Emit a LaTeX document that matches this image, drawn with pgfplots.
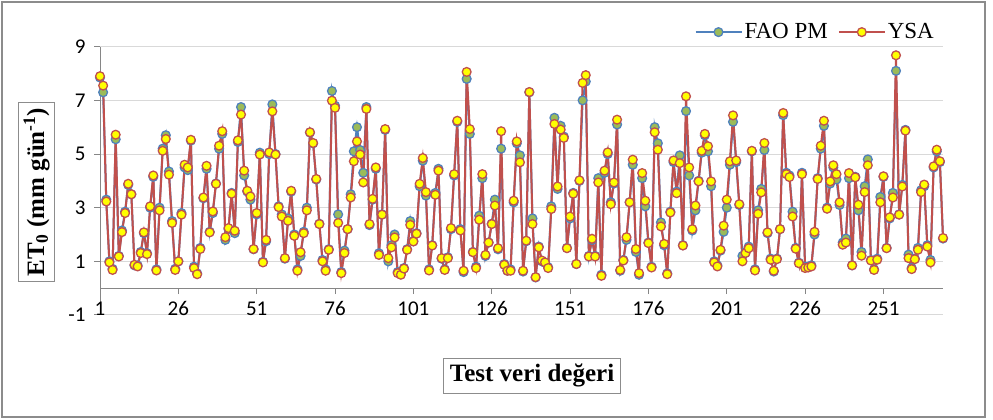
\documentclass[border=0pt]{standalone}
\usepackage{fontspec}
\setmainfont{Liberation Serif}
\newfontfamily\carlito{Carlito}
\usepackage{pgfplots}
\usepackage{pgfplotstable}
\pgfplotsset{compat=1.18}
\definecolor{faoline}{HTML}{4F81BD}
\definecolor{faomark}{HTML}{9BBB59}
\definecolor{ysaline}{HTML}{C0504D}
\definecolor{ysamark}{HTML}{FFFF00}
\definecolor{gridc}{HTML}{D9D9D9}
\definecolor{axisc}{HTML}{868686}
\definecolor{framec}{HTML}{8C8C8C}

\pgfplotstableread[row sep=\\]{
i f y\\
1 7.85 7.9\\ 2 7.3 7.55\\ 3 3.3 3.23\\ 4 1.0 0.96\\ 5 0.72 0.68\\ 6 5.55 5.72\\ 7 1.2 1.18\\ 8 2.15 2.09\\ 9 2.85 2.8\\ 10 3.85 3.89\\
11 3.5 3.5\\ 12 0.85 0.87\\ 13 0.85 0.81\\ 14 1.35 1.31\\ 15 2.05 2.08\\ 16 1.3 1.27\\ 17 3.0 3.05\\ 18 4.15 4.2\\ 19 0.7 0.66\\ 20 3.0 2.9\\
21 5.2 5.12\\ 22 5.7 5.56\\ 23 4.35 4.23\\ 24 2.5 2.43\\ 25 0.72 0.68\\ 26 1.0 1.0\\ 27 2.8 2.74\\ 28 4.5 4.6\\ 29 4.4 4.5\\ 30 5.5 5.53\\
31 0.8 0.75\\ 32 0.55 0.52\\ 33 1.5 1.46\\ 34 3.35 3.38\\ 35 4.45 4.56\\ 36 2.1 2.08\\ 37 2.8 2.86\\ 38 3.9 3.89\\ 39 5.2 5.31\\ 40 5.75 5.85\\
41 1.8 1.9\\ 42 2.2 2.24\\ 43 3.55 3.52\\ 44 2.05 2.14\\ 45 5.45 5.51\\ 46 6.75 6.47\\ 47 4.2 4.38\\ 48 3.6 3.63\\ 49 3.3 3.42\\ 50 1.45 1.46\\
51 2.75 2.8\\ 52 5.05 4.98\\ 53 0.98 0.96\\ 54 1.75 1.8\\ 55 5.0 5.06\\ 56 6.85 6.59\\ 57 5.0 4.98\\ 58 3.05 3.02\\ 59 2.75 2.67\\ 60 1.1 1.12\\
61 2.6 2.51\\ 62 3.6 3.63\\ 63 2.0 1.95\\ 64 0.7 0.65\\ 65 1.2 1.34\\ 66 2.1 2.05\\ 67 3.0 2.9\\ 68 5.8 5.81\\ 69 5.4 5.41\\ 70 4.05 4.07\\
71 2.4 2.39\\ 72 1.05 1.0\\ 73 0.7 0.65\\ 74 1.45 1.43\\ 75 7.35 6.99\\ 76 6.8 6.72\\ 77 2.75 2.43\\ 78 0.6 0.56\\ 79 1.4 1.31\\ 80 2.2 2.2\\
81 3.5 3.38\\ 82 5.1 4.73\\ 83 6.0 5.47\\ 84 5.15 4.98\\ 85 4.3 3.94\\ 86 6.75 6.68\\ 87 2.35 2.39\\ 88 3.3 3.33\\ 89 4.45 4.5\\ 90 1.3 1.24\\
91 2.75 2.74\\ 92 5.9 5.93\\ 93 1.0 1.12\\ 94 1.6 1.52\\ 95 2.0 1.89\\ 96 0.6 0.56\\ 97 0.55 0.5\\ 98 0.75 0.73\\ 99 1.45 1.43\\ 100 2.5 2.36\\
101 1.75 1.74\\ 102 2.05 2.03\\ 103 3.8 3.89\\ 104 4.75 4.85\\ 105 3.45 3.58\\ 106 0.7 0.66\\ 107 1.6 1.59\\ 108 3.55 3.48\\ 109 4.45 4.38\\ 110 1.1 1.12\\
111 0.7 0.68\\ 112 1.15 1.12\\ 113 2.2 2.24\\ 114 4.2 4.25\\ 115 6.2 6.24\\ 116 2.2 2.15\\ 117 0.6 0.65\\ 118 7.8 8.06\\ 119 5.75 5.93\\ 120 1.35 1.34\\
121 0.8 0.75\\ 122 2.7 2.55\\ 123 4.1 4.25\\ 124 1.2 1.24\\ 125 1.7 1.7\\ 126 2.4 2.39\\ 127 3.3 3.08\\ 128 1.45 1.49\\ 129 5.2 5.85\\ 130 0.9 0.87\\
131 0.65 0.65\\ 132 0.7 0.65\\ 133 3.2 3.26\\ 134 5.4 5.47\\ 135 4.95 4.69\\ 136 0.62 0.65\\ 137 1.75 1.77\\ 138 7.3 7.31\\ 139 2.6 2.39\\ 140 0.4 0.41\\
141 1.55 1.52\\ 142 1.0 1.03\\ 143 0.95 0.96\\ 144 0.78 0.75\\ 145 3.05 2.95\\ 146 6.35 6.12\\ 147 3.7 3.79\\ 148 6.05 5.91\\ 149 5.65 5.6\\ 150 1.5 1.49\\
151 2.6 2.67\\ 152 3.55 3.52\\ 153 0.9 0.9\\ 154 4.0 4.02\\ 155 7.0 7.65\\ 156 7.7 7.94\\ 157 1.2 1.18\\ 158 1.8 1.84\\ 159 1.2 1.18\\ 160 4.1 3.94\\
161 0.5 0.46\\ 162 4.3 4.38\\ 163 5.0 5.06\\ 164 3.2 3.13\\ 165 3.9 3.94\\ 166 6.1 6.28\\ 167 0.65 0.68\\ 168 1.05 1.03\\ 169 1.8 1.9\\ 170 3.2 3.2\\
171 4.6 4.79\\ 172 1.35 1.46\\ 173 0.5 0.56\\ 174 4.1 4.29\\ 175 3.05 3.26\\ 176 1.7 1.68\\ 177 0.8 0.77\\ 178 6.0 5.81\\ 179 5.4 5.16\\ 180 2.45 2.3\\
181 1.6 1.65\\ 182 0.55 0.52\\ 183 2.85 2.82\\ 184 4.7 4.76\\ 185 3.6 3.54\\ 186 4.95 4.66\\ 187 1.6 1.59\\ 188 6.6 7.15\\ 189 4.2 4.5\\ 190 2.15 2.2\\
191 2.9 3.08\\ 192 4.0 3.98\\ 193 5.05 5.12\\ 194 5.7 5.75\\ 195 5.1 5.29\\ 196 3.8 3.98\\ 197 1.0 0.96\\ 198 0.85 0.81\\ 199 1.4 1.43\\ 200 2.1 2.33\\
201 3.0 3.3\\ 202 4.6 4.73\\ 203 6.2 6.44\\ 204 4.7 4.76\\ 205 3.1 3.13\\ 206 1.2 1.0\\ 207 1.35 1.31\\ 208 1.55 1.49\\ 209 5.1 5.12\\ 210 0.7 0.66\\
211 2.9 2.77\\ 212 3.7 3.57\\ 213 5.15 5.41\\ 214 2.05 2.08\\ 215 1.1 1.06\\ 216 0.62 0.65\\ 217 1.1 1.08\\ 218 2.2 2.2\\ 219 6.45 6.53\\ 220 4.3 4.25\\
221 4.2 4.14\\ 222 2.85 2.67\\ 223 1.5 1.47\\ 224 0.95 0.93\\ 225 4.3 4.25\\ 226 0.8 0.75\\ 227 0.8 0.77\\ 228 0.85 0.81\\ 229 2.0 2.1\\ 230 4.1 4.07\\
231 5.2 5.31\\ 232 6.05 6.24\\ 233 3.0 2.96\\ 234 3.9 3.98\\ 235 4.5 4.58\\ 236 4.05 4.25\\ 237 3.1 3.2\\ 238 1.7 1.62\\ 239 1.85 1.7\\ 240 4.1 4.29\\
241 0.85 0.85\\ 242 4.15 4.13\\ 243 2.9 3.11\\ 244 1.35 1.21\\ 245 3.8 3.58\\ 246 4.8 4.58\\ 247 1.05 1.03\\ 248 0.7 0.68\\ 249 1.1 1.06\\ 250 3.4 3.2\\
251 4.15 4.17\\ 252 1.5 1.49\\ 253 2.6 2.64\\ 254 3.55 3.38\\ 255 8.1 8.68\\ 256 2.75 2.74\\ 257 3.85 3.79\\ 258 5.9 5.87\\ 259 1.25 1.12\\ 260 0.75 0.71\\
261 1.1 1.08\\ 262 1.5 1.43\\ 263 3.65 3.58\\ 264 3.8 3.86\\ 265 1.6 1.55\\ 266 1.05 0.96\\ 267 4.5 4.54\\ 268 5.1 5.16\\ 269 4.7 4.73\\ 270 1.85 1.87\\
}\datatable

\begin{document}
\begin{tikzpicture}
\path[use as bounding box] (0pt,0pt) rectangle (993pt,420pt);
\draw[framec, line width=1.2pt] (2pt,3pt) rectangle (985pt,418pt);
\begin{axis}[
  at={(100pt,105pt)}, anchor=south west,
  scale only axis, width=843pt, height=268.3pt,
  xmin=1, xmax=270, ymin=-1, ymax=9,
  clip=false,
  axis x line=middle, axis y line=left,
  x axis line style={-, axisc, line width=1pt},
  y axis line style={-, axisc, line width=1pt},
  hide obscured x ticks=false, hide obscured y ticks=false,
  xtick={1,26,51,76,101,126,151,176,201,226,251},
  xticklabels={1,26,51,76,101,126,151,176,201,226,251},
  ytick={-1,1,3,5,7,9},
  yticklabels={-1,1,3,5,7,9},
  tick align=outside, major tick length=6pt,
  tick style={axisc, line width=1pt},
  ymajorgrids, grid style={gridc, line width=1pt},
  xticklabel style={font=\carlito\fontsize{21}{21}\selectfont, yshift=-4pt},
  yticklabel style={font=\carlito\fontsize{21}{21}\selectfont, xshift=-5pt},
  xlabel={Test veri değeri},
  xlabel style={at={(axis description cs:0.5125,-0.227)}, anchor=center, draw=framec, line width=1pt, inner sep=6pt, font=\fontsize{25}{25}\selectfont\bfseries},
  ylabel={ET\textsubscript{0} (mm gün\textsuperscript{-1})},
  ylabel style={at={(axis description cs:-0.0753,0.458)}, anchor=center, draw=framec, line width=1pt, inner sep=5pt, font=\fontsize{25}{25}\selectfont\bfseries},
  legend columns=2,
  legend style={at={(axis description cs:1,1)}, anchor=south east, xshift=-4pt, yshift=2pt, draw=none, fill=none, font=\fontsize{23}{23}\selectfont, /tikz/every even column/.append style={column sep=8pt}},
  legend image code/.code={\draw[mark repeat=2, mark phase=2, #1] plot coordinates {(0pt,0pt) (23pt,0pt) (46pt,0pt)};},
]
\addplot[faoline, line width=2pt, mark=*, mark size=4.4pt, mark options={fill=faomark, draw=faoline, line width=1.3pt}] table[x=i, y=f] {\datatable};
\addlegendentry{FAO PM}
\addplot[ysaline, line width=2pt, mark=*, mark size=4.4pt, mark options={fill=ysamark, draw=ysaline, line width=1.3pt}] table[x=i, y=y] {\datatable};
\addlegendentry{YSA}
\end{axis}
\end{tikzpicture}
\end{document}
